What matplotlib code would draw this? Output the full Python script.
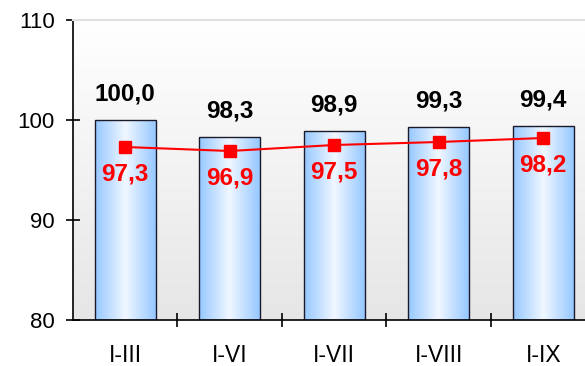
import numpy as np
import matplotlib.pyplot as plt
from matplotlib.colors import LinearSegmentedColormap
from matplotlib.ticker import FixedLocator

plt.rcParams['font.family'] = ['Liberation Sans', 'DejaVu Sans']

categories = ['I-III', 'I-VI', 'I-VII', 'I-VIII', 'I-IX']
bar_values = [100.0, 98.3, 98.9, 99.3, 99.4]
line_values = [97.3, 96.9, 97.5, 97.8, 98.2]
bar_labels = ['100,0', '98,3', '98,9', '99,3', '99,4']
line_labels = ['97,3', '96,9', '97,5', '97,8', '98,2']

fig = plt.figure(figsize=(5.85, 3.66), dpi=100)
ax = fig.add_axes([73 / 585, 1 - 320 / 366, 1 - 73 / 585, 300 / 366])

ymin, ymax = 80, 110
xlo, xhi = -0.5, 4.4
ax.set_xlim(xlo, xhi)
ax.set_ylim(ymin, ymax)

# background gradient
bg = LinearSegmentedColormap.from_list('bg', ['#e6e6e6', '#ffffff'])
ax.imshow(np.linspace(0, 1, 256).reshape(-1, 1), cmap=bg, aspect='auto',
          extent=(xlo, xhi, ymin, ymax), origin='lower', zorder=0)

# bars with horizontal gradient
barcm = LinearSegmentedColormap.from_list('bar', [(0, '#96c8ff'), (0.5, '#f0f7ff'), (1, '#96c8ff')])
w = 0.58
grad = np.linspace(0, 1, 256).reshape(1, -1)
for i, v in enumerate(bar_values):
    ax.imshow(grad, cmap=barcm, aspect='auto', extent=(i - w / 2, i + w / 2, ymin, v), zorder=1)
x = np.arange(len(categories))
ax.bar(x, [v - ymin for v in bar_values], bottom=ymin, width=w, fill=False,
       edgecolor='#1a1a2a', linewidth=1.0, zorder=2)

ax.plot(x, line_values, color='#ff0000', linewidth=1.5, marker='s', markersize=8, zorder=3)

for i in range(len(categories)):
    ax.annotate(bar_labels[i], (i, bar_values[i]), xytext=(0, 26), textcoords='offset pixels',
                ha='center', va='center', fontsize=17.5, fontweight='bold', color='black', zorder=4)
    ax.annotate(line_labels[i], (i, line_values[i]), xytext=(0, -27), textcoords='offset pixels',
                ha='center', va='center', fontsize=17.5, fontweight='bold', color='#ff0000', zorder=4)

ax.set_xticks(x)
ax.set_xticklabels(categories, fontsize=16.5)
ax.xaxis.set_minor_locator(FixedLocator([0.5, 1.5, 2.5, 3.5]))
ax.tick_params(axis='x', which='major', length=0, pad=17)
ax.tick_params(axis='x', which='minor', direction='inout', length=10, width=1.2)
ax.set_yticks([80, 90, 100, 110])
ax.tick_params(axis='y', direction='inout', length=10, width=1.2, labelsize=16, pad=8)

ax.spines['right'].set_visible(False)
ax.spines['top'].set_color('#e0e0e0')
ax.spines['top'].set_linewidth(1.5)
ax.spines['left'].set_linewidth(1.2)
ax.spines['bottom'].set_linewidth(1.2)

fig.savefig('out.png', dpi=100)
